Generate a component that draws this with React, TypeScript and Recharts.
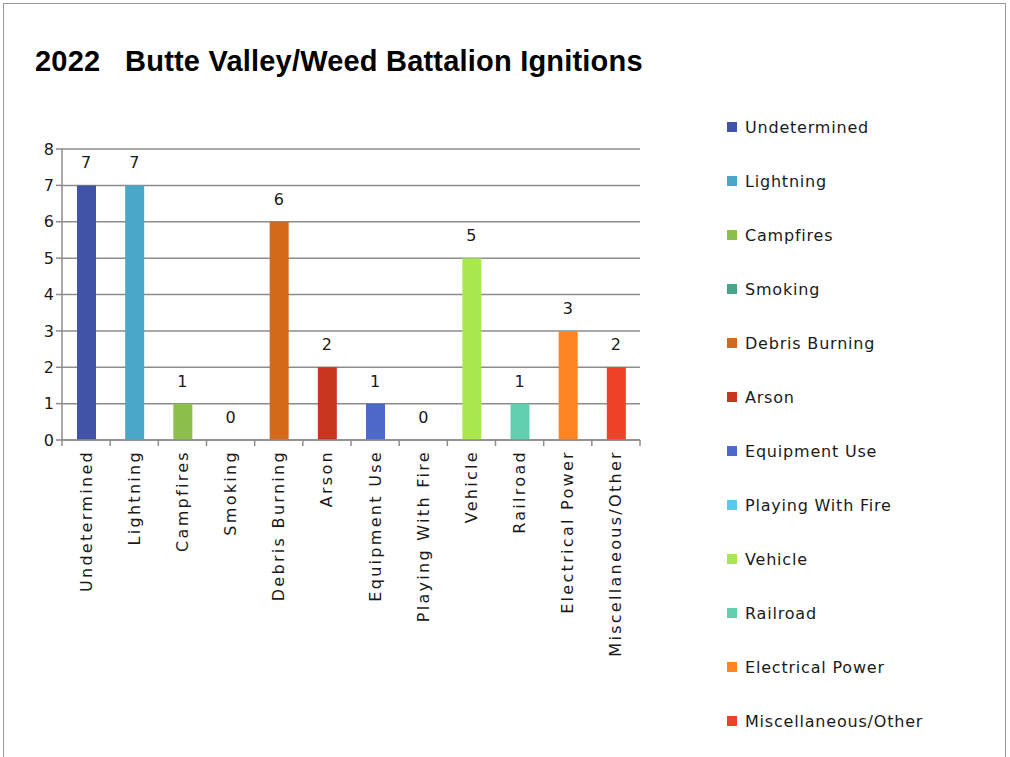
import React from 'react';
import { ComposedChart, Bar, Line, XAxis, YAxis, CartesianGrid, LabelList, Cell } from 'recharts';

// Ignition causes and counts for 2022
const causes = [
  'Undetermined',
  'Lightning',
  'Campfires',
  'Smoking',
  'Debris Burning',
  'Arson',
  'Equipment Use',
  'Playing With Fire',
  'Vehicle',
  'Railroad',
  'Electrical Power',
  'Miscellaneous/Other',
];
const counts = [7, 7, 1, 0, 6, 2, 1, 0, 5, 1, 3, 2];
const colors = [
  '#4053A4', '#4BA7C9', '#8CC04A', '#47A58A', '#D4691A', '#C9361F',
  '#4E69C9', '#5BC8F0', '#A8E84E', '#5FCFB0', '#FF8422', '#EE4228',
];
const yTicks = [0, 1, 2, 3, 4, 5, 6, 7, 8];

const data = causes.map((name, i) => ({ name, value: counts[i] }));

const FONT = '"DejaVu Sans", sans-serif';
const AXIS = '#8c8c8c';

const CategoryTick = (props: any) => {
  const { x, y, payload, index } = props;
  const band = 578 / causes.length;
  const left = x - band / 2;
  return (
    <g>
      <line x1={left} y1={y - 8} x2={left} y2={y - 2} stroke={AXIS} strokeWidth={1.5} />
      {index === causes.length - 1 && (
        <line x1={left + band} y1={y - 8} x2={left + band} y2={y - 2} stroke={AXIS} strokeWidth={1.5} />
      )}
      <text
        x={x}
        y={y + 2}
        transform={`rotate(-90, ${x}, ${y + 2})`}
        textAnchor="end"
        dominantBaseline="central"
        fontFamily={FONT}
        fontSize={16}
        letterSpacing={2.3}
        fill="#1a1a1a"
      >
        {payload.value}
      </text>
    </g>
  );
};

// legend drawn beside the plot, one row per cause
const LegendList = () => (
  <div style={{ fontFamily: FONT, fontSize: 16, letterSpacing: 0.8, color: '#1a1a1a' }}>
    {causes.map((c, i) => (
      <div key={c} style={{ display: 'flex', alignItems: 'center', height: 54 }}>
        <span style={{ width: 10, height: 10, background: colors[i], marginRight: 8, display: 'inline-block' }} />
        <span>{c}</span>
      </div>
    ))}
  </div>
);

export default function App() {
  return (
    <div style={{ position: 'absolute', left: 0, top: 0, width: 1010, height: 757, background: '#fff', overflow: 'hidden' }}>
      <div
        style={{
          position: 'absolute',
          left: 3,
          top: 3,
          width: 1003,
          height: 760,
          border: '1.5px solid #9a9a9a',
          boxSizing: 'border-box',
        }}
      />
      <div
        style={{
          position: 'absolute',
          left: 35,
          top: 45,
          fontFamily: '"Liberation Sans", sans-serif',
          fontWeight: 'bold',
          fontSize: 29,
          letterSpacing: 0.2,
          whiteSpace: 'pre',
          color: '#000',
        }}
      >
        {'2022   Butte Valley/Weed Battalion Ignitions'}
      </div>
      <div style={{ position: 'absolute', left: 0, top: 0 }}>
        <ComposedChart
          width={660}
          height={757}
          data={data}
          margin={{ top: 149, right: 20, left: 0, bottom: 117 }}
        >
          <CartesianGrid vertical={false} stroke={AXIS} strokeWidth={1.5} />
          <XAxis
            dataKey="name"
            interval={0}
            height={200}
            axisLine={{ stroke: AXIS, strokeWidth: 1.5 }}
            tickLine={false}
            tick={<CategoryTick />}
          />
          <YAxis
            width={62}
            domain={[0, 8]}
            ticks={yTicks}
            interval={0}
            axisLine={{ stroke: AXIS, strokeWidth: 1.5 }}
            tickLine={{ stroke: AXIS, strokeWidth: 1.5 }}
            tickSize={6}
            tick={{ fontFamily: FONT, fontSize: 16, fill: '#1a1a1a' }}
          />
          <Bar dataKey="value" barSize={19} isAnimationActive={false}>
            {data.map((d, i) => (
              <Cell key={d.name} fill={colors[i]} />
            ))}
          </Bar>
          {/* invisible line only carries the value labels, so zeros get one too */}
          <Line
            dataKey="value"
            stroke="none"
            dot={false}
            activeDot={false}
            isAnimationActive={false}
          >
            <LabelList
              dataKey="value"
              position="top"
              offset={17}
              style={{ fontFamily: FONT, fontSize: 16, fill: '#1a1a1a' }}
            />
          </Line>
        </ComposedChart>
      </div>
      <div style={{ position: 'absolute', left: 727, top: 100, width: 260 }}>
        <LegendList />
      </div>
    </div>
  );
}
